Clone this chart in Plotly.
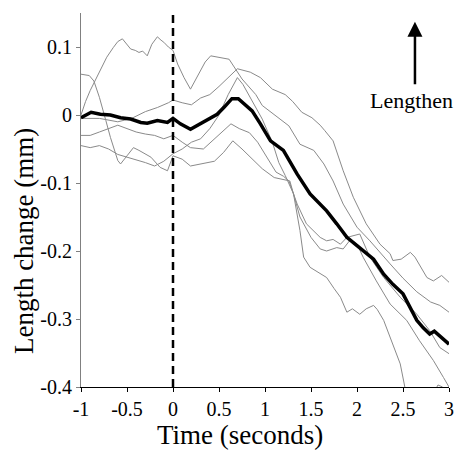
import plotly.graph_objects as go

# ---- data ----
t_mean = [-1.0,-0.89,-0.79,-0.68,-0.57,-0.46,-0.35,-0.28,-0.17,-0.06,0.0,0.08,0.19,0.26,0.33,0.4,0.48,0.56,0.64,0.71,0.78,0.86,0.95,1.06,1.2,1.35,1.49,1.58,1.67,1.78,1.89,2.0,2.07,2.18,2.29,2.39,2.5,2.58,2.65,2.72,2.79,2.84,2.88,2.94,3.0]
v_mean = [-0.004,0.004,0.001,0.0,-0.004,-0.006,-0.011,-0.012,-0.008,-0.011,-0.005,-0.013,-0.021,-0.016,-0.011,-0.006,0.001,0.012,0.024,0.024,0.016,0.006,-0.013,-0.038,-0.052,-0.087,-0.116,-0.128,-0.141,-0.16,-0.18,-0.192,-0.2,-0.212,-0.234,-0.249,-0.263,-0.285,-0.302,-0.313,-0.322,-0.318,-0.323,-0.33,-0.337]

t_a = [-1.0,-0.95,-0.9,-0.85,-0.8,-0.72,-0.65,-0.6,-0.55,-0.5,-0.46,-0.41,-0.37,-0.33,-0.28,-0.23,-0.17,-0.13,-0.1,-0.05,0.0,0.05,0.12,0.19,0.26,0.35,0.41,0.5,0.61,0.75,0.9,0.97,1.1,1.26,1.38,1.53,1.64,1.74,1.85,2.0,2.14,2.29,2.36,2.5,2.65,2.8,2.9,3.0]
v_a = [0.0,0.02,0.036,0.05,0.065,0.085,0.099,0.108,0.112,0.103,0.097,0.095,0.092,0.094,0.087,0.104,0.115,0.11,0.107,0.1,0.095,0.075,0.055,0.038,0.055,0.078,0.087,0.085,0.082,0.053,0.03,0.014,0.0,-0.016,-0.043,-0.052,-0.072,-0.097,-0.131,-0.165,-0.185,-0.209,-0.219,-0.24,-0.26,-0.275,-0.28,-0.29]

t_c = [-1.0,-0.8,-0.6,-0.45,-0.3,-0.17,-0.05,0.0,0.1,0.2,0.3,0.4,0.5,0.6,0.7,0.84,0.95,1.08,1.22,1.3,1.4,1.51,1.6,1.65,1.74,1.85,1.96,2.1,2.25,2.36,2.39,2.48,2.58,2.63,2.76,2.83,2.92,3.0]
v_c = [-0.005,-0.005,-0.01,-0.005,0.005,0.011,0.018,0.022,0.018,0.015,0.025,0.03,0.042,0.055,0.068,0.063,0.055,0.038,0.03,0.02,0.004,-0.004,-0.015,-0.023,-0.038,-0.082,-0.121,-0.16,-0.19,-0.204,-0.214,-0.212,-0.202,-0.209,-0.239,-0.244,-0.236,-0.246]

t_e = [-1.0,-0.91,-0.86,-0.8,-0.73,-0.68,-0.6,-0.57,-0.5,-0.43,-0.37,-0.3,-0.24,-0.14,-0.06,0.0,0.1,0.19,0.3,0.45,0.55,0.65,0.75,0.97,1.1,1.2,1.27,1.38,1.5,1.6,1.67,1.78,1.85,1.93,2.0,2.07,2.21,2.36,2.54,2.68,2.83,2.94,3.0]
v_e = [0.06,0.058,0.05,0.026,-0.008,-0.033,-0.067,-0.072,-0.06,-0.048,-0.052,-0.058,-0.062,-0.077,-0.082,-0.06,-0.065,-0.075,-0.072,-0.068,-0.055,-0.038,-0.05,-0.079,-0.092,-0.095,-0.097,-0.15,-0.18,-0.197,-0.2,-0.195,-0.197,-0.183,-0.19,-0.21,-0.244,-0.278,-0.302,-0.332,-0.361,-0.386,-0.4]

t_g = [-1.0,-0.9,-0.8,-0.7,-0.6,-0.5,-0.4,-0.3,-0.2,-0.1,0.0,0.1,0.19,0.33,0.45,0.55,0.63,0.72,0.83,0.92,1.01,1.12,1.2,1.26,1.35,1.45,1.6,1.67,1.74,1.82,1.89,2.03,2.14,2.29,2.47,2.65,2.79,2.9,3.0]
v_g = [-0.03,-0.03,-0.025,-0.02,-0.015,-0.02,-0.025,-0.028,-0.03,-0.035,-0.03,-0.04,-0.048,-0.05,-0.035,-0.022,-0.013,-0.02,-0.026,-0.04,-0.06,-0.084,-0.09,-0.097,-0.131,-0.16,-0.18,-0.185,-0.183,-0.19,-0.18,-0.175,-0.209,-0.239,-0.268,-0.293,-0.317,-0.342,-0.351]

t_h = [-1.0,-0.9,-0.8,-0.7,-0.6,-0.5,-0.4,-0.3,-0.2,-0.1,0.0,0.1,0.2,0.3,0.4,0.5,0.6,0.7,0.76,0.83,0.97,1.08,1.15,1.22,1.31,1.38,1.42,1.49,1.58,1.67,1.75,1.82,1.89,1.95,2.03,2.1,2.18,2.22,2.29,2.39,2.47,2.52,2.6,2.75,2.85,2.88,2.93,3.0]
v_h = [-0.045,-0.048,-0.045,-0.05,-0.058,-0.062,-0.065,-0.07,-0.075,-0.068,-0.057,-0.05,-0.04,-0.035,-0.02,0.0,0.03,0.055,0.045,0.028,-0.006,-0.04,-0.07,-0.089,-0.116,-0.17,-0.209,-0.224,-0.232,-0.239,-0.255,-0.268,-0.29,-0.285,-0.293,-0.285,-0.28,-0.286,-0.302,-0.337,-0.366,-0.4,-0.44,-0.45,-0.405,-0.397,-0.4,-0.41]

x_ticks = [-1, -0.5, 0, 0.5, 1, 1.5, 2, 2.5, 3]
x_labels = ["-1", "-0.5", "0", "0.5", "1", "1.5", "2", "2.5", "3"]
y_ticks = [0.1, 0, -0.1, -0.2, -0.3, -0.4]
y_labels = ["0.1", "0", "-0.1", "-0.2", "-0.3", "-0.4"]

FONT = "Times New Roman, Liberation Serif, serif"
GRAY = "#8a8a8a"

fig = go.Figure()
for tt, vv in [(t_a, v_a), (t_c, v_c), (t_e, v_e), (t_g, v_g), (t_h, v_h)]:
    fig.add_trace(go.Scatter(x=tt, y=vv, mode="lines",
                             line=dict(color=GRAY, width=1), hoverinfo="skip"))
fig.add_trace(go.Scatter(x=t_mean, y=v_mean, mode="lines",
                         line=dict(color="black", width=3.5)))
# stimulus onset
fig.add_trace(go.Scatter(x=[0, 0], y=[-0.4, 0.15], mode="lines",
                         line=dict(color="black", width=2.5, dash="8px,5px")))

fig.add_annotation(x=2.63, y=0.137, ax=2.63, ay=0.043, xref="x", yref="y",
                   axref="x", ayref="y", text="", showarrow=True,
                   arrowhead=2, arrowsize=1.2, arrowwidth=2.5, arrowcolor="black")
fig.add_annotation(x=2.587, y=0.021, xref="x", yref="y",
                   text="Lengthen", showarrow=False,
                   font=dict(family=FONT, size=22, color="black"))
# axis titles (placed as in the reference, off-centre)
fig.add_annotation(x=0.732, y=-0.128, xref="x", yref="paper",
                   xanchor="center", yanchor="middle",
                   text="Time (seconds)", showarrow=False,
                   font=dict(family=FONT, size=27, color="black"))
fig.add_annotation(x=-0.155, y=0.39, xref="paper", yref="paper", textangle=-90,
                   xanchor="center", yanchor="middle",
                   text="Length change (mm)", showarrow=False,
                   font=dict(family=FONT, size=27, color="black"))

fig.update_layout(
    width=454, height=450, showlegend=False, hovermode=False,
    paper_bgcolor="white", plot_bgcolor="white",
    margin=dict(l=81, r=5, t=13, b=63),
    font=dict(family=FONT, color="black"),
)
fig.update_xaxes(range=[-1, 3], tickvals=x_ticks, ticktext=x_labels,
                 automargin=False,
                 showgrid=False, zeroline=False, showline=True, linecolor="black",
                 linewidth=1, ticks="outside", ticklen=4, tickcolor="black",
                 tickfont=dict(size=20, family=FONT))
fig.update_yaxes(range=[-0.4, 0.15], tickvals=y_ticks, ticktext=y_labels,
                 automargin=False,
                 showgrid=False, zeroline=False, showline=True, linecolor="#808080",
                 linewidth=1, ticks="outside", ticklen=4, tickcolor="#808080",
                 tickfont=dict(size=20, family=FONT))

fig.write_html("out.html", config={"displayModeBar": False},
               post_script="document.body.style.margin='0';document.body.style.overflow='hidden';")
